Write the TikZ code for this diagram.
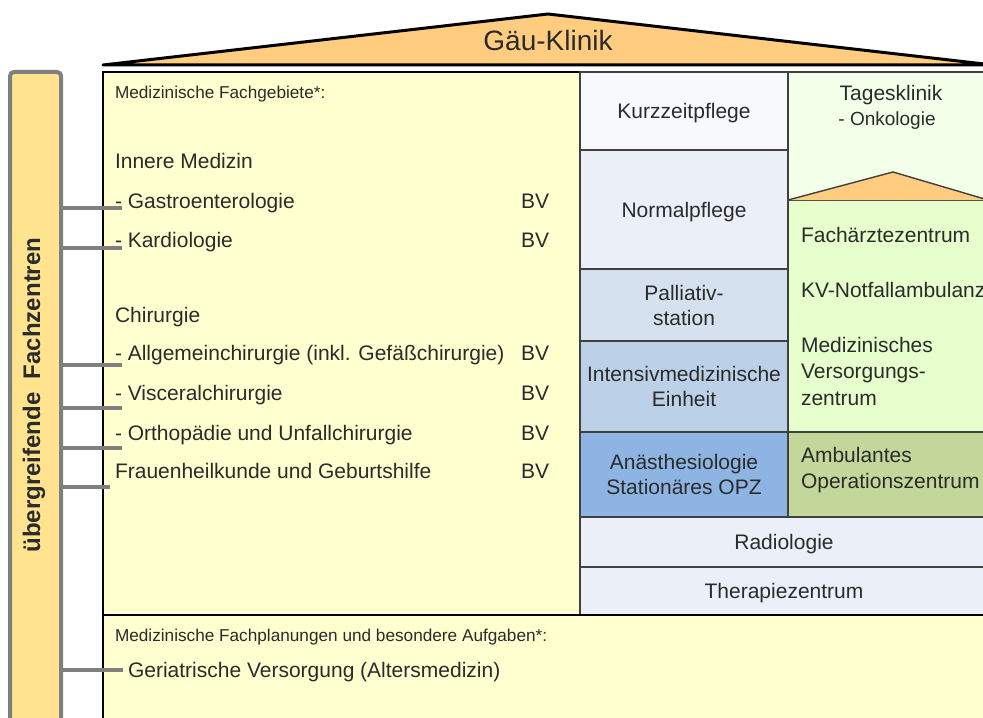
\documentclass[tikz,border=0pt]{standalone}
\usepackage{fontspec}
\setmainfont{Liberation Sans}
\usetikzlibrary{calc,positioning}

\definecolor{roof}{HTML}{FFCC80}
\definecolor{mainbg}{HTML}{FFFFD0}
\definecolor{barbg}{HTML}{FFE38F}
\definecolor{kzp}{HTML}{F7F9FC}
\definecolor{pale}{HTML}{EBEFF7}
\definecolor{pall}{HTML}{D6E1F0}
\definecolor{its}{HTML}{BCD0E8}
\definecolor{ana}{HTML}{8DB4E2}
\definecolor{tk}{HTML}{F4FFEA}
\definecolor{faz}{HTML}{E6FFCC}
\definecolor{aoz}{HTML}{C4D79B}
\definecolor{txt}{HTML}{2B2B2B}
\definecolor{link}{HTML}{7F7F7F}

\begin{document}
\begin{tikzpicture}[
    x=0.5pt,
    y=-0.5pt,
    every node/.style={inner sep=0pt, outer sep=0pt, text=txt},
    body/.style={font=\fontsize{10.5}{12.5}\selectfont},
    small/.style={font=\fontsize{8.6}{10}\selectfont, anchor=base west},
    item/.style={body, anchor=base west},
    cell/.style={body, draw=black!75, line width=0.7pt, anchor=north west, align=center},
    single/.style={cell, text depth=0pt},
    conn/.style={draw=link, line width=2pt}
]

\useasboundingbox (0,0) rectangle (983,717);
\clip (0,0) rectangle (983,717);


% Roof
\draw[fill=roof, line width=1.5pt, line join=round] (103,65) -- (548,14) -- (993,65) -- cycle;
\node[font=\fontsize{14}{16}\selectfont] (title) at (548,40) {Gäu-Klinik};


% House
\node[draw=black, line width=1pt, fill=mainbg, anchor=north west,
      minimum width=442.5pt, minimum height=329pt] (haus) at (103,72) {};


% Wards
\node[single, fill=kzp, minimum width=104pt, minimum height=39pt] (kzp) at (580,72) {Kurzzeitpflege};
\node[single, fill=pale, minimum width=104pt, minimum height=59.5pt] (np) at (kzp.south west) {Normalpflege};
\node[cell, fill=pall, minimum width=104pt, minimum height=36pt] (pall) at (np.south west) {Palliativ-\\station};
\node[cell, fill=its, minimum width=104pt, minimum height=45.5pt] (its) at (pall.south west) {Intensivmedizinische\\Einheit};
\node[cell, fill=ana, minimum width=104pt, minimum height=42.5pt] (ana) at (its.south west) {Anästhesiologie\\Stationäres OPZ};
\node[single, fill=pale, minimum width=204pt, minimum height=25pt] (radio) at (ana.south west) {Radiologie};
\node[single, fill=pale, minimum width=204pt, minimum height=24pt] (thera) at (radio.south west) {Therapiezentrum};

\draw[line width=1pt] (haus.west |- thera.south) -- (thera.south east);


% Outpatient side
\node[cell, fill=tk, minimum width=100pt, minimum height=64pt] (tk) at (kzp.north east) {};
\node[cell, fill=faz, minimum width=100pt, minimum height=116pt] (faz) at (tk.south west) {};
\node[cell, fill=aoz, minimum width=100pt, minimum height=42.5pt] (aoz) at (faz.south west) {};

\draw[fill=roof, draw=black!75, line width=0.7pt, line join=round] (faz.north west) -- (893,172) -- (faz.north east);

\node[body, anchor=base] (tk1) at (891,100) {Tagesklinik};
\node[font=\fontsize{9.5}{11}\selectfont, anchor=base] (tk2) at (887,126) {- Onkologie};

\node[item] (faz1) at (801,242) {Fachärztezentrum};
\node[item] (kv) at (801,297) {KV-Notfallambulanz};
\node[item] (mvz1) at (801,352) {Medizinisches};
\node[item] (mvz2) at (801,378) {Versorgungs-};
\node[item] (mvz3) at (801,405) {zentrum};
\node[item] (aoz1) at (801,462) {Ambulantes};
\node[item] (aoz2) at (801,488) {Operationszentrum};


% Fachgebiete
\node[small] (fg) at (115,98) {Medizinische Fachgebiete*:};
\node[item] (inn) at (115,168) {Innere Medizin};
\node[item] (gastro) at (115,208) {- Gastroenterologie};
\node[item] (kardio) at (115,247) {- Kardiologie};
\node[item] (chir) at (115,322) {Chirurgie};
\node[item] (allg) at (115,360) {- Allgemeinchirurgie (inkl. Gefäßchirurgie)};
\node[item] (visc) at (115,400) {- Visceralchirurgie};
\node[item] (ortho) at (115,440) {- Orthopädie und Unfallchirurgie};
\node[item] (frauen) at (115,478) {Frauenheilkunde und Geburtshilfe};

\coordinate (bvcol) at (535,0);
\foreach \n in {gastro,kardio,allg,visc,ortho,frauen}
    \node[body, anchor=base] (bv-\n) at (bvcol |- \n.base) {BV};


% Fachplanungen
\node[small] (fp) at (115,641) {Medizinische Fachplanungen und besondere Aufgaben*:};
\node[item] (geri) at (128,677) {Geriatrische Versorgung (Altersmedizin)};


% Fachzentren
\node[draw=link, line width=2pt, fill=barbg, rounded corners=2pt, anchor=north west,
      minimum width=25.5pt, minimum height=340pt] (bar) at (10,72) {};
\node[rotate=90, font=\bfseries\fontsize{12}{14}\selectfont] (barlabel) at (34,395) {übergreifende\ \ Fachzentren};


% Links
\foreach \n/\dx/\dy in {gastro/7/0, kardio/7/1, allg/7/5, visc/7/8, ortho/7/8, frauen/-5/9, geri/-5/-7} {
    \coordinate (end-\n) at ($(\n.base west)+(\dx,\dy)$);
    \draw[conn] (bar.east |- end-\n) -- (end-\n);
}


\end{tikzpicture}
\end{document}
